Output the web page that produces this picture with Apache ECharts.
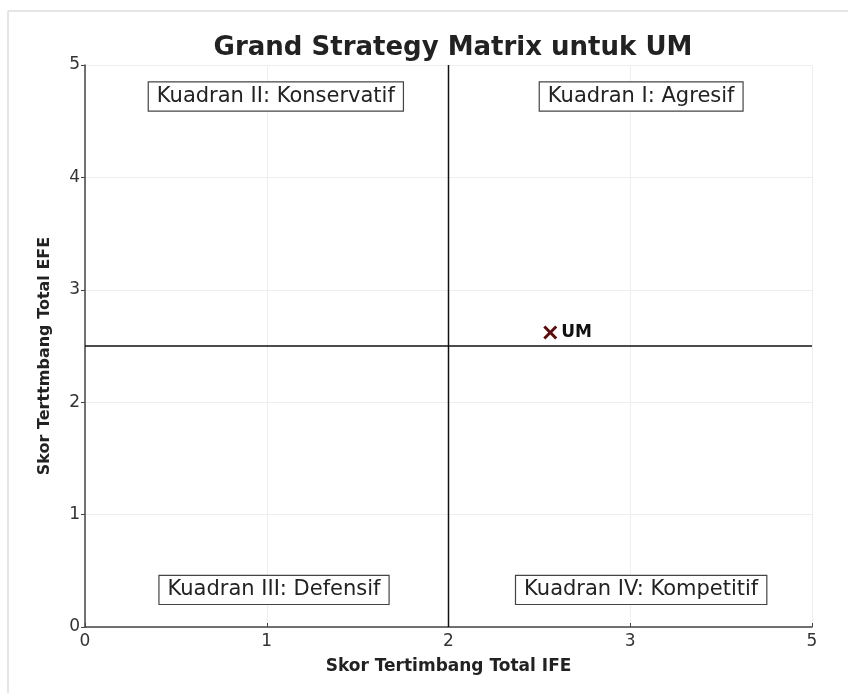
<!DOCTYPE html>
<html>
<head>
<meta charset="utf-8">
<script src="https://cdn.jsdelivr.net/npm/echarts@6/dist/echarts.min.js"></script>
<style>
  html, body { margin: 0; padding: 0; background: #fff; }
  #chart { width: 848px; height: 693px; }
</style>
</head>
<body>
<div id="chart"></div>
<script>
// tick labels on the IFE axis (the last one reads 5 in the source)
const xTickLabels = ['0', '1', '2', '3', '5'];
const yTicks = [0, 1, 2, 3, 4, 5];
// company position
const pointName = 'UM';
const pointIFE = 2.56;
const pointEFE = 2.62;
// dividing lines
const ifeMid = 2;
const efeMid = 2.5;
// quadrant labels [x, y, text]
const quadrants = [
  [1.05, 4.72, 'Kuadran II: Konservatif'],
  [3.06, 4.72, 'Kuadran I: Agresif'],
  [1.04, 0.33, 'Kuadran III: Defensif'],
  [3.06, 0.33, 'Kuadran IV: Kompetitif']
];

const font = 'DejaVu Sans';
let chart = echarts.init(document.getElementById('chart'));
chart.setOption({
  animation: false,
  textStyle: { fontFamily: font },
  title: {
    text: 'Grand Strategy Matrix untuk UM',
    left: 448, top: 30, textAlign: 'center',
    textStyle: { fontFamily: font, fontSize: 26, fontWeight: 'bold', color: '#222' }
  },
  graphic: [
    { type: 'line', shape: { x1: 8, y1: 11, x2: 848, y2: 11 }, style: { stroke: '#ddd', lineWidth: 1.5 } },
    { type: 'line', shape: { x1: 8, y1: 11, x2: 8, y2: 693 }, style: { stroke: '#ddd', lineWidth: 1.5 } }
  ],
  grid: { left: 85, right: 36, top: 65, bottom: 66 },
  xAxis: {
    type: 'value', min: 0, max: 4, interval: 1,
    name: 'Skor Tertimbang Total IFE', nameLocation: 'middle', nameGap: 31,
    nameTextStyle: { fontFamily: font, fontSize: 17, fontWeight: 'bold', color: '#222' },
    axisLine: { show: true, lineStyle: { color: '#444', width: 1.5 } },
    axisTick: { show: true, length: 4, inside: true, lineStyle: { color: '#444' } },
    axisLabel: { fontSize: 17, color: '#333', margin: 6, formatter: v => xTickLabels[v] },
    splitLine: { show: true, lineStyle: { color: '#eee', width: 1 } }
  },
  yAxis: {
    type: 'value', min: 0, max: 5, interval: 1,
    name: 'Skor Terttmbang Total EFE', nameLocation: 'middle', nameGap: 32,
    nameTextStyle: { fontFamily: font, fontSize: 16, fontWeight: 'bold', color: '#222', padding: [0, 20, 0, 0] },
    axisLine: { show: true, lineStyle: { color: '#444', width: 1.5 } },
    axisTick: { show: true, length: 4, lineStyle: { color: '#444' } },
    axisLabel: { fontSize: 17, color: '#333', margin: 5, formatter: v => yTicks.includes(v) ? String(v) : '' },
    splitLine: { show: true, lineStyle: { color: '#eee', width: 1 } }
  },
  series: [
    {
      type: 'line', symbol: 'none', silent: true,
      data: [[ifeMid, 0], [ifeMid, 5]],
      lineStyle: { color: '#111', width: 1.5 }
    },
    {
      type: 'line', symbol: 'none', silent: true,
      data: [[0, efeMid], [4, efeMid]],
      lineStyle: { color: '#111', width: 1.5 }
    },
    {
      type: 'scatter',
      data: [[pointIFE, pointEFE]],
      symbol: 'path://M0,1.5 L1.5,0 L5,3.5 L8.5,0 L10,1.5 L6.5,5 L10,8.5 L8.5,10 L5,6.5 L1.5,10 L0,8.5 L3.5,5 Z',
      symbolSize: 14,
      itemStyle: { color: '#5e0a0a', opacity: 1 },
      label: {
        show: true, position: 'right', distance: 4,
        formatter: pointName,
        fontFamily: font, fontSize: 17, fontWeight: 'bold', color: '#111'
      }
    },
    {
      type: 'scatter', symbolSize: 0, silent: true,
      itemStyle: { opacity: 1 },
      data: quadrants.map(q => ({ value: [q[0], q[1]], name: q[2] })),
      label: {
        show: true, position: 'inside', formatter: p => p.name,
        fontFamily: font, fontSize: 21, color: '#222',
        backgroundColor: '#fff', borderColor: '#444', borderWidth: 1.2,
        padding: [4, 8, 3, 8]
      }
    }
  ]
});
</script>
</body>
</html>
